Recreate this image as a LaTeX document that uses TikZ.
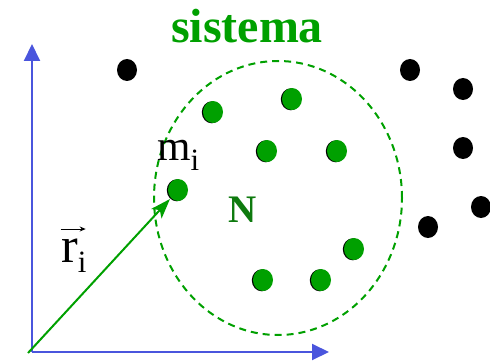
\documentclass[tikz,border=0pt]{standalone}
\usepackage{fontspec}
\setmainfont{Liberation Serif}
\usetikzlibrary{shapes.geometric,arrows.meta}
\definecolor{axblue}{HTML}{4A55DD}
\definecolor{dotgreen}{HTML}{00A000}
\definecolor{ngreen}{HTML}{0E7A0E}
\tikzset{
  gdot/.style={ellipse,fill=dotgreen,minimum width=20pt,minimum height=22pt,inner sep=0pt},
  gshadow/.style={ellipse,fill=black,minimum width=20pt,minimum height=22pt,inner sep=0pt},
  bdot/.style={ellipse,fill=black,minimum width=20pt,minimum height=22pt,inner sep=0pt},
  axis/.style={draw=axblue,line width=2pt,-{Triangle[length=17pt,width=16pt]}},
  rvec/.style={draw=dotgreen,line width=2pt,-{Stealth[length=20pt,width=14pt,inset=5pt]}},
}
\newcommand{\sbi}{\raisebox{-10pt}{\fontsize{31}{31}\selectfont i}}
\begin{document}
\begin{tikzpicture}[x=1pt,y=-1pt]
\useasboundingbox (0,0) rectangle (490,361);
% axes
\coordinate (O) at (32,352);
\coordinate (Y) at (32,44);
\coordinate (X) at (329,352);
\draw[axis] (O) -- (Y);
\draw[axis] (O) -- (X);
% system boundary
\node[ellipse,draw=dotgreen,line width=2pt,dash pattern=on 7pt off 5pt,minimum width=248pt,minimum height=274pt] (sys) at (278,198) {};
% green dots
\foreach \n/\x/\y in {g1/213/112,g2/292/99,g3/267/151,g4/337/151,mi/178/190,g6/354/249,g7/263/280,g8/321/280}{
  \node[gshadow] at (\x-1.2,\y+0.3) {};
  \node[gdot] (\n) at (\x,\y) {};
}
% black dots
\foreach \n/\x/\y in {b1/127/70,b2/410/70,b3/463/89,b4/463/148,b5/481/207,b6/428/227}{
  \node[bdot] (\n) at (\x,\y) {};
}
% position vector
\coordinate (O2) at (28,353);
\coordinate (tip) at (170,199);
\draw[rvec] (O2) -- (tip);
% labels
\node[text=dotgreen,font=\bfseries\fontsize{48}{48}\selectfont,anchor=base] (title) at (247,43) {sistema};
\node[font=\fontsize{43}{43}\selectfont,anchor=base west,inner sep=0pt] (mlab) at (157,160) {m\sbi};
\node[text=ngreen,font=\bfseries\fontsize{39}{39}\selectfont,anchor=base,inner sep=0pt] (N) at (243,222) {N};
\node[font=\fontsize{50}{50}\selectfont,anchor=base west,inner sep=0pt] (rlab) at (61,262) {\makebox[0pt][l]{\raisebox{33pt}{\hspace{-1pt}\tikz[baseline=0pt,y=1pt]\draw[line width=1pt,-{Stealth[length=6pt,width=5pt]}] (0,0) -- (25pt,0);}}r\sbi};
\end{tikzpicture}
\end{document}
